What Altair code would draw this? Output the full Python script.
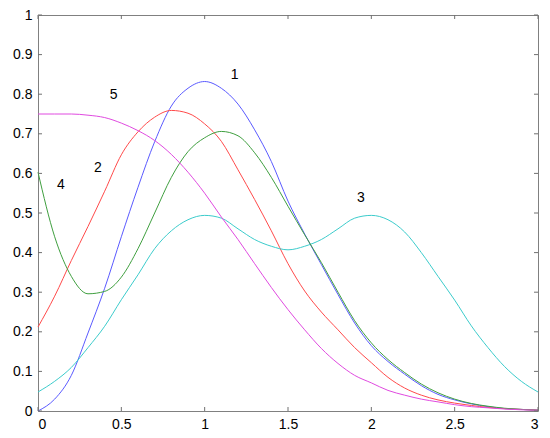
import altair as alt
import pandas as pd

# x sample positions
x_vals = [0.0, 0.1, 0.2, 0.3, 0.4, 0.5, 0.6, 0.7, 0.8, 0.9, 1.0,
          1.1, 1.2, 1.3, 1.4, 1.5, 1.6, 1.7, 1.8, 1.9, 2.0,
          2.1, 2.2, 2.3, 2.4, 2.5, 2.6, 2.7, 2.8, 2.9, 3.0]

# curve 1 (blue)
curve1 = [0.0, 0.03, 0.09, 0.197, 0.31, 0.44, 0.565, 0.68, 0.77, 0.815, 0.832,
          0.815, 0.775, 0.71, 0.63, 0.53, 0.447, 0.37, 0.294, 0.222, 0.165,
          0.125, 0.093, 0.064, 0.042, 0.028, 0.018, 0.011, 0.006, 0.004, 0.002]
# curve 2 (red)
curve2 = [0.212, 0.29, 0.38, 0.466, 0.555, 0.647, 0.705, 0.742, 0.759, 0.752, 0.725,
          0.681, 0.609, 0.534, 0.455, 0.372, 0.303, 0.25, 0.205, 0.16, 0.122,
          0.085, 0.058, 0.04, 0.028, 0.02, 0.014, 0.009, 0.006, 0.004, 0.002]
# curve 3 (cyan)
curve3 = [0.048, 0.075, 0.11, 0.16, 0.214, 0.281, 0.344, 0.41, 0.455, 0.483, 0.494,
          0.487, 0.46, 0.433, 0.416, 0.407, 0.416, 0.433, 0.46, 0.487, 0.494,
          0.483, 0.452, 0.4, 0.34, 0.28, 0.215, 0.16, 0.112, 0.075, 0.048]
# curve 4 (green)
curve4 = [0.603, 0.44, 0.34, 0.296, 0.302, 0.338, 0.41, 0.5, 0.59, 0.655, 0.69,
          0.706, 0.695, 0.652, 0.59, 0.517, 0.445, 0.375, 0.3, 0.228, 0.172,
          0.13, 0.097, 0.068, 0.046, 0.03, 0.019, 0.012, 0.007, 0.004, 0.002]
# curve 5 (magenta)
curve5 = [0.75, 0.75, 0.75, 0.747, 0.741, 0.727, 0.708, 0.683, 0.648, 0.603, 0.55,
          0.49, 0.433, 0.372, 0.312, 0.256, 0.205, 0.158, 0.12, 0.09, 0.071,
          0.052, 0.04, 0.03, 0.023, 0.016, 0.011, 0.008, 0.005, 0.003, 0.002]

curve_names = ["1", "2", "3", "4", "5"]
curve_colors = ["#5a5aff", "#ff4a4a", "#3ccccc", "#3f9f3f", "#e04ae0"]

# annotation labels (text, data x, data y)
label_text = ["1", "2", "3", "4", "5"]
label_x = [1.18, 0.36, 1.938, 0.138, 0.454]
label_y = [0.849, 0.614, 0.539, 0.571, 0.797]

x_ticks = [0, 0.5, 1, 1.5, 2, 2.5, 3]
y_ticks = [0, 0.1, 0.2, 0.3, 0.4, 0.5, 0.6, 0.7, 0.8, 0.9, 1]

rows = []
for name, ys in zip(curve_names, [curve1, curve2, curve3, curve4, curve5]):
    for xv, yv in zip(x_vals, ys):
        rows.append({"x": xv, "y": yv, "curve": name})
df = pd.DataFrame(rows)

W, H = 500, 396
xs = alt.Scale(domain=[0, 3], nice=False, zero=False)
ys_ = alt.Scale(domain=[0, 1], nice=False, zero=False)
x_axis = alt.Axis(values=x_ticks, format="~g", ticks=False, domain=False,
                  grid=False, labelPadding=6, labelOverlap=False, title=None)
y_axis = alt.Axis(values=y_ticks, format="~g", ticks=False, domain=False,
                  grid=False, labelPadding=6, labelOverlap=False, title=None)

lines = alt.Chart(df).mark_line(strokeWidth=1, interpolate="monotone").encode(
    x=alt.X("x:Q", scale=xs, axis=x_axis, title=None),
    y=alt.Y("y:Q", scale=ys_, axis=y_axis, title=None),
    color=alt.Color("curve:N", scale=alt.Scale(domain=curve_names, range=curve_colors),
                    legend=None),
    detail="curve:N",
)

xt = pd.DataFrame({"t": x_ticks})
yt = pd.DataFrame({"t": y_ticks})
tick_color = "#707070"

bottom_ticks = alt.Chart(xt).mark_rule(color=tick_color, strokeWidth=1).encode(
    x=alt.X("t:Q", scale=xs, axis=x_axis, title=None), y=alt.value(H), y2=alt.value(H - 4))
top_ticks = alt.Chart(xt).mark_rule(color=tick_color, strokeWidth=1).encode(
    x=alt.X("t:Q", scale=xs, axis=x_axis, title=None), y=alt.value(0), y2=alt.value(4))
left_ticks = alt.Chart(yt).mark_rule(color=tick_color, strokeWidth=1).encode(
    y=alt.Y("t:Q", scale=ys_, axis=y_axis, title=None), x=alt.value(0), x2=alt.value(4))
right_ticks = alt.Chart(yt).mark_rule(color=tick_color, strokeWidth=1).encode(
    y=alt.Y("t:Q", scale=ys_, axis=y_axis, title=None), x=alt.value(W), x2=alt.value(W - 4))

labels_df = pd.DataFrame({"text": label_text, "x": label_x, "y": label_y})
labels = alt.Chart(labels_df).mark_text(
    font="Liberation Sans", fontSize=14, color="black", align="center", baseline="middle"
).encode(x=alt.X("x:Q", scale=xs, axis=x_axis, title=None),
         y=alt.Y("y:Q", scale=ys_, axis=y_axis, title=None),
         text="text:N")

chart = alt.layer(
    lines, bottom_ticks, top_ticks, left_ticks, right_ticks, labels
).properties(
    width=W, height=H,
    autosize=alt.AutoSizeParams(type="none"),
    padding={"left": 30, "top": 7, "right": 4, "bottom": 27},
).configure_view(
    stroke="#808080", strokeWidth=1
).configure_axis(
    labelFont="Liberation Sans", labelFontSize=14, labelColor="black",
    labelOverlap=False
)

chart.save("out.html", embed_options={"renderer": "svg", "actions": False})
